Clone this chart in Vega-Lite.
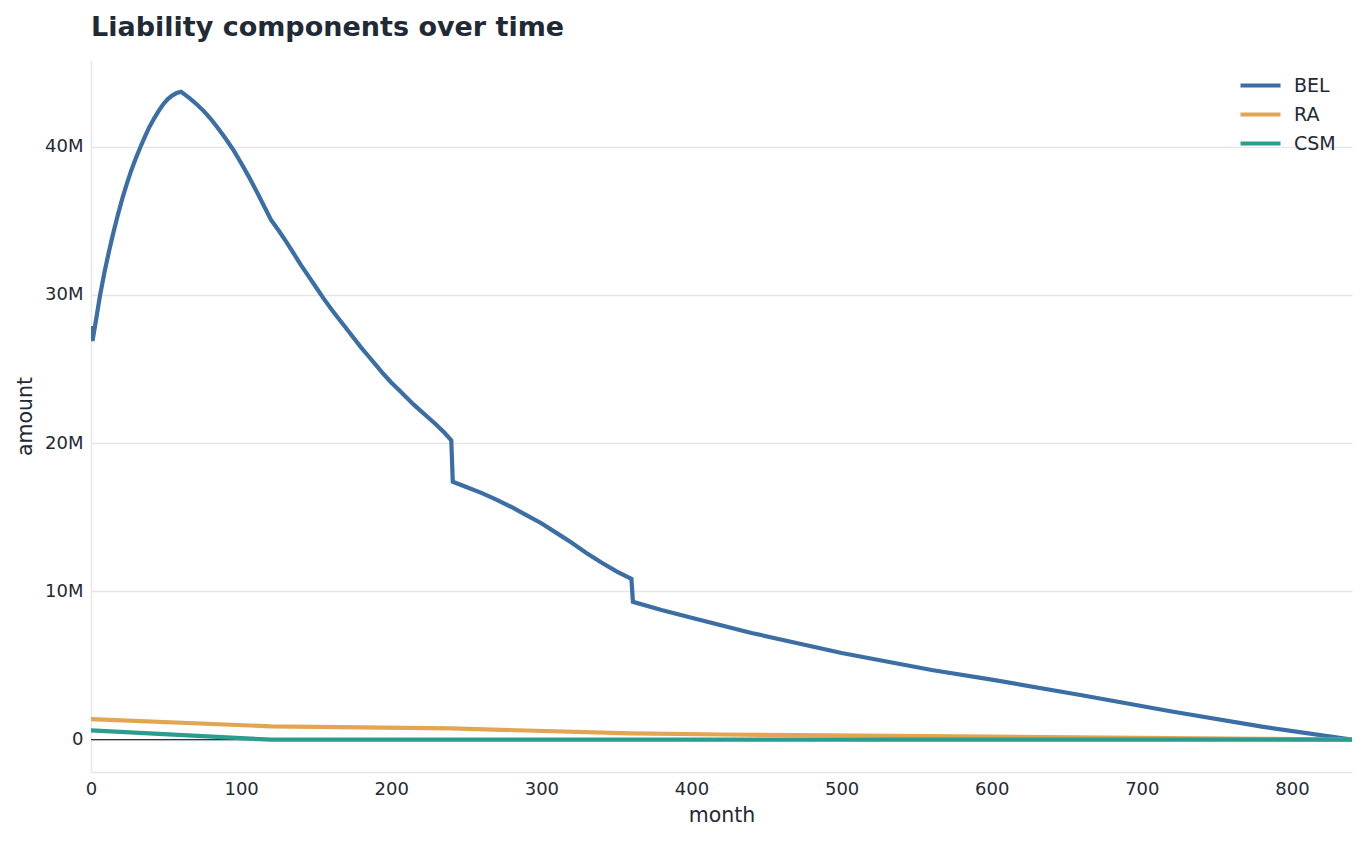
{
  "$schema": "https://vega.github.io/schema/vega-lite/v6.json",
  "width": 1261,
  "height": 712,
  "autosize": {"type": "none"},
  "padding": {"left": 91, "top": 60, "right": 15, "bottom": 70},
  "background": "white",
  "title": {
    "text": "Liability components over time",
    "anchor": "start",
    "frame": "group",
    "font": "DejaVu Sans",
    "fontSize": 27,
    "fontWeight": "bold",
    "color": "#1f2a36",
    "offset": 18
  },
  "config": {
    "view": {"stroke": null},
    "font": "DejaVu Sans",
    "axis": {
      "labelFont": "DejaVu Sans",
      "labelFontSize": 18,
      "labelColor": "#1f2a36",
      "titleFont": "DejaVu Sans",
      "titleFontSize": 20.5,
      "titleFontWeight": "normal",
      "titleColor": "#1f2a36",
      "ticks": false,
      "domainColor": "#e5e7eb",
      "gridColor": "#e5e7eb",
      "gridWidth": 1.5,
      "domainWidth": 1.5
    },
    "legend": {
      "labelFont": "DejaVu Sans",
      "labelFontSize": 19,
      "labelColor": "#1f2a36"
    }
  },
  "datasets": {
    "zero": [{"y": 0}],
    "series": [
      {"month": 0, "amount": 27900000, "component": "BEL"},
      {"month": 1, "amount": 26900000, "component": "BEL"},
      {"month": 3, "amount": 28100000, "component": "BEL"},
      {"month": 6, "amount": 29950000, "component": "BEL"},
      {"month": 9, "amount": 31550000, "component": "BEL"},
      {"month": 12, "amount": 32950000, "component": "BEL"},
      {"month": 15, "amount": 34250000, "component": "BEL"},
      {"month": 18, "amount": 35450000, "component": "BEL"},
      {"month": 21, "amount": 36550000, "component": "BEL"},
      {"month": 24, "amount": 37550000, "component": "BEL"},
      {"month": 27, "amount": 38450000, "component": "BEL"},
      {"month": 30, "amount": 39250000, "component": "BEL"},
      {"month": 33, "amount": 40000000, "component": "BEL"},
      {"month": 36, "amount": 40700000, "component": "BEL"},
      {"month": 39, "amount": 41350000, "component": "BEL"},
      {"month": 42, "amount": 41900000, "component": "BEL"},
      {"month": 45, "amount": 42400000, "component": "BEL"},
      {"month": 48, "amount": 42850000, "component": "BEL"},
      {"month": 51, "amount": 43200000, "component": "BEL"},
      {"month": 54, "amount": 43450000, "component": "BEL"},
      {"month": 57, "amount": 43620000, "component": "BEL"},
      {"month": 60, "amount": 43700000, "component": "BEL"},
      {"month": 63, "amount": 43480000, "component": "BEL"},
      {"month": 66, "amount": 43250000, "component": "BEL"},
      {"month": 70, "amount": 42900000, "component": "BEL"},
      {"month": 75, "amount": 42420000, "component": "BEL"},
      {"month": 80, "amount": 41850000, "component": "BEL"},
      {"month": 85, "amount": 41200000, "component": "BEL"},
      {"month": 90, "amount": 40500000, "component": "BEL"},
      {"month": 95, "amount": 39750000, "component": "BEL"},
      {"month": 100, "amount": 38900000, "component": "BEL"},
      {"month": 105, "amount": 38000000, "component": "BEL"},
      {"month": 110, "amount": 37050000, "component": "BEL"},
      {"month": 115, "amount": 36050000, "component": "BEL"},
      {"month": 120, "amount": 35050000, "component": "BEL"},
      {"month": 125, "amount": 34350000, "component": "BEL"},
      {"month": 130, "amount": 33600000, "component": "BEL"},
      {"month": 135, "amount": 32800000, "component": "BEL"},
      {"month": 140, "amount": 32000000, "component": "BEL"},
      {"month": 145, "amount": 31250000, "component": "BEL"},
      {"month": 150, "amount": 30500000, "component": "BEL"},
      {"month": 155, "amount": 29750000, "component": "BEL"},
      {"month": 160, "amount": 29050000, "component": "BEL"},
      {"month": 165, "amount": 28400000, "component": "BEL"},
      {"month": 170, "amount": 27750000, "component": "BEL"},
      {"month": 175, "amount": 27100000, "component": "BEL"},
      {"month": 180, "amount": 26450000, "component": "BEL"},
      {"month": 185, "amount": 25850000, "component": "BEL"},
      {"month": 190, "amount": 25250000, "component": "BEL"},
      {"month": 195, "amount": 24650000, "component": "BEL"},
      {"month": 200, "amount": 24100000, "component": "BEL"},
      {"month": 205, "amount": 23600000, "component": "BEL"},
      {"month": 210, "amount": 23100000, "component": "BEL"},
      {"month": 215, "amount": 22600000, "component": "BEL"},
      {"month": 220, "amount": 22150000, "component": "BEL"},
      {"month": 225, "amount": 21700000, "component": "BEL"},
      {"month": 230, "amount": 21250000, "component": "BEL"},
      {"month": 235, "amount": 20750000, "component": "BEL"},
      {"month": 240, "amount": 20200000, "component": "BEL"},
      {"month": 241, "amount": 17400000, "component": "BEL"},
      {"month": 250, "amount": 17050000, "component": "BEL"},
      {"month": 260, "amount": 16650000, "component": "BEL"},
      {"month": 270, "amount": 16200000, "component": "BEL"},
      {"month": 280, "amount": 15700000, "component": "BEL"},
      {"month": 290, "amount": 15150000, "component": "BEL"},
      {"month": 300, "amount": 14600000, "component": "BEL"},
      {"month": 310, "amount": 13950000, "component": "BEL"},
      {"month": 320, "amount": 13300000, "component": "BEL"},
      {"month": 330, "amount": 12600000, "component": "BEL"},
      {"month": 340, "amount": 11950000, "component": "BEL"},
      {"month": 350, "amount": 11350000, "component": "BEL"},
      {"month": 360, "amount": 10850000, "component": "BEL"},
      {"month": 361, "amount": 9300000, "component": "BEL"},
      {"month": 380, "amount": 8750000, "component": "BEL"},
      {"month": 400, "amount": 8220000, "component": "BEL"},
      {"month": 440, "amount": 7200000, "component": "BEL"},
      {"month": 500, "amount": 5850000, "component": "BEL"},
      {"month": 560, "amount": 4700000, "component": "BEL"},
      {"month": 600, "amount": 4050000, "component": "BEL"},
      {"month": 660, "amount": 3000000, "component": "BEL"},
      {"month": 720, "amount": 1900000, "component": "BEL"},
      {"month": 780, "amount": 880000, "component": "BEL"},
      {"month": 840, "amount": 0, "component": "BEL"},
      {"month": 0, "amount": 1390000, "component": "RA"},
      {"month": 120, "amount": 900000, "component": "RA"},
      {"month": 240, "amount": 760000, "component": "RA"},
      {"month": 360, "amount": 420000, "component": "RA"},
      {"month": 420, "amount": 350000, "component": "RA"},
      {"month": 600, "amount": 200000, "component": "RA"},
      {"month": 780, "amount": 60000, "component": "RA"},
      {"month": 840, "amount": 0, "component": "RA"},
      {"month": 0, "amount": 630000, "component": "CSM"},
      {"month": 120, "amount": 0, "component": "CSM"},
      {"month": 840, "amount": 0, "component": "CSM"}
    ]
  },
  "layer": [
    {
      "data": {"name": "zero"},
      "mark": {"type": "rule", "color": "#2b3440", "strokeWidth": 1.2},
      "encoding": {
        "y": {"field": "y", "type": "quantitative", "scale": {"domain": [-2180000, 45850000], "nice": false, "zero": false}}
      }
    },
    {
      "data": {"name": "series"},
      "mark": {"type": "line", "strokeWidth": 4.2, "strokeJoin": "miter", "clip": true},
      "encoding": {
        "x": {
          "field": "month", "type": "quantitative", "title": "month",
          "scale": {"domain": [0, 840], "nice": false},
          "axis": {"values": [0, 100, 200, 300, 400, 500, 600, 700, 800], "grid": false, "labelFlush": false, "labelPadding": 8, "titlePadding": 7}
        },
        "y": {
          "field": "amount", "type": "quantitative", "title": "amount",
          "scale": {"domain": [-2180000, 45850000], "nice": false, "zero": false},
          "axis": {
            "values": [0, 10000000, 20000000, 30000000, 40000000],
            "labelExpr": "datum.value == 0 ? '0' : format(datum.value / 1000000, 'd') + 'M'",
            "labelPadding": 8, "titlePadding": 9
          }
        },
        "color": {
          "field": "component", "type": "nominal",
          "scale": {"domain": ["BEL", "RA", "CSM"], "range": ["#3a6ea5", "#e3a453", "#2a9d8f"]},
          "legend": {
            "title": null, "orient": "none", "legendX": 1157, "legendY": 13,
            "symbolType": "M-2,0H2", "symbolSize": 400, "symbolStrokeWidth": 4.2,
            "symbolFillColor": "transparent",
            "rowPadding": 6, "labelOffset": 21
          }
        },
        "order": {"field": "month", "type": "quantitative"}
      }
    }
  ]
}
